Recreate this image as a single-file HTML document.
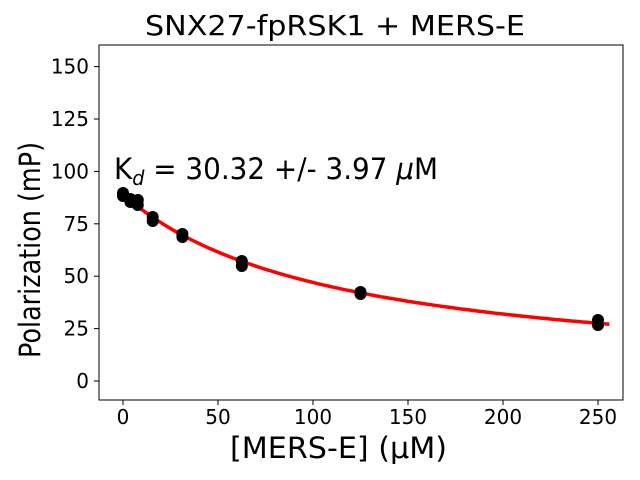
<!DOCTYPE html>
<html><head><style>body{margin:0;background:#fff}svg{display:block}text{font-family:"DejaVu Sans","Liberation Sans",sans-serif;fill:#000}</style></head>
<body>
<svg width="640" height="480" xmlns="http://www.w3.org/2000/svg">
<rect width="640" height="480" fill="#fff"/>
<text x="335" y="35" font-size="28" text-anchor="middle" textLength="380" lengthAdjust="spacingAndGlyphs">SNX27-fpRSK1 + MERS-E</text>
<g stroke="#000" stroke-width="1">
<line x1="123" y1="400" x2="123" y2="405"/><line x1="218" y1="400" x2="218" y2="405"/><line x1="313" y1="400" x2="313" y2="405"/><line x1="408" y1="400" x2="408" y2="405"/><line x1="503" y1="400" x2="503" y2="405"/><line x1="598" y1="400" x2="598" y2="405"/>
<line x1="94" y1="381" x2="99" y2="381"/><line x1="94" y1="328.6" x2="99" y2="328.6"/><line x1="94" y1="276.2" x2="99" y2="276.2"/><line x1="94" y1="223.8" x2="99" y2="223.8"/><line x1="94" y1="171.4" x2="99" y2="171.4"/><line x1="94" y1="119" x2="99" y2="119"/><line x1="94" y1="66.6" x2="99" y2="66.6"/>
</g>
<g font-size="20" text-anchor="middle">
<text x="123" y="424">0</text><text x="218" y="424">50</text><text x="313" y="424">100</text><text x="408" y="424">150</text><text x="503" y="424">200</text><text x="598" y="424">250</text>
</g>
<g font-size="20" text-anchor="end">
<text x="89" y="388">0</text><text x="89" y="335.6">25</text><text x="89" y="283.2">50</text><text x="89" y="230.8">75</text><text x="89" y="178.4">100</text><text x="89" y="126">125</text><text x="89" y="73.6">150</text>
</g>
<text x="230" y="458" font-size="29" textLength="217" lengthAdjust="spacingAndGlyphs">[MERS-E] (μM)</text>
<text transform="translate(40,358) rotate(-90)" font-size="29" textLength="216" lengthAdjust="spacingAndGlyphs">Polarization (mP)</text>
<path id="c" fill="none" stroke="#f00" stroke-width="3.5" d=""/>
<g fill="#000">
<ellipse cx="123" cy="193" rx="6" ry="6"/><ellipse cx="123" cy="196" rx="6" ry="6"/>
<ellipse cx="130.4" cy="199" rx="6" ry="6"/><ellipse cx="130.4" cy="202" rx="6" ry="6"/>
<ellipse cx="137.8" cy="200" rx="6" ry="6"/><ellipse cx="137.8" cy="205" rx="6" ry="6"/>
<ellipse cx="152.7" cy="217" rx="6" ry="6"/><ellipse cx="152.7" cy="221" rx="6" ry="6"/>
<ellipse cx="182.4" cy="234" rx="6" ry="6"/><ellipse cx="182.4" cy="237" rx="6" ry="6"/>
<ellipse cx="241.8" cy="261" rx="6" ry="6"/><ellipse cx="241.8" cy="266" rx="6" ry="6"/>
<ellipse cx="360.5" cy="292" rx="6" ry="6"/><ellipse cx="360.5" cy="294" rx="6" ry="6"/>
<ellipse cx="598" cy="320" rx="6" ry="6"/><ellipse cx="598" cy="325" rx="6" ry="6"/>
</g>
<text x="114" y="179" font-size="29" textLength="324" lengthAdjust="spacingAndGlyphs">K<tspan font-size="20" dy="6" font-style="italic">d</tspan><tspan dy="-6"> = 30.32 +/- 3.97 </tspan><tspan font-style="italic">μ</tspan>M</text>
<rect x="99" y="45" width="524" height="355" fill="none" stroke="#000" stroke-width="1"/>
<script>
var d="";for(var i=0;i<=256;i+=2){var y=89*112/(112+i);d+=(i?"L":"M")+(123+i*1.9).toFixed(1)+","+(381-y*2.096).toFixed(1);}
document.getElementById("c").setAttribute("d",d);
</script>
</svg>
</body></html>
